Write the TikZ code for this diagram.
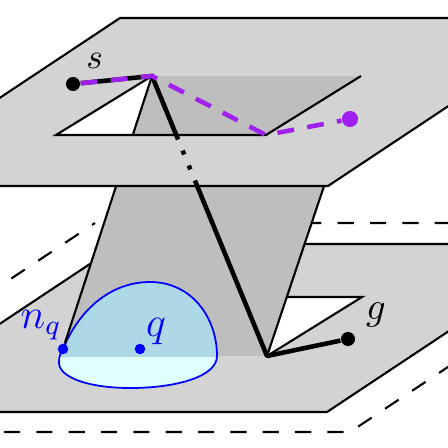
\documentclass[tikz,border=0pt]{standalone}
\usepackage{tikz}
\usetikzlibrary{positioning,calc}

\definecolor{planegray}{RGB}{211,211,211}
\definecolor{rampgray}{RGB}{190,190,190}
\definecolor{pathpurple}{RGB}{160,32,240}
\definecolor{regionblue}{RGB}{173,216,230}
\definecolor{regioncyan}{RGB}{224,255,255}

% outline of the region round q
\newcommand{\qregion}{(63,349) .. controls (80,308) and (112,282) .. (150,282)
    .. controls (192,282) and (217,318) .. (217,356)
    .. controls (217,376) and (178,388) .. (130,388)
    .. controls (88,388) and (58,377) .. (59,362)
    .. controls (59,356) and (61,352) .. (63,349)}

\begin{document}
\begin{tikzpicture}[
    x=0.01cm, y=-0.01cm,
    edge/.style={draw=black, line width=0.6pt},
    frame/.style={draw=black, line width=0.6pt, dash pattern=on 4.6pt off 4.6pt},
    route/.style={line width=1.3pt, black},
    altroute/.style={line width=1.3pt, pathpurple, dash pattern=on 4.8pt off 3.8pt},
    blackdot/.style={circle, fill=black, inner sep=0pt, minimum size=4pt},
    purpledot/.style={circle, fill=pathpurple, inner sep=0pt, minimum size=4.6pt},
    bluedot/.style={circle, fill=blue, inner sep=0pt, minimum size=3pt}
]
\useasboundingbox (0,0) rectangle (448,448);
\clip (0,0) rectangle (448,448);

% Dashed frame
\draw[frame, dash phase=4.6pt] (95,223) -- (665,223) -- (350,432) -- (-220,432) -- cycle;

% Lower plane
\fill[planegray] (120,244) -- (580,244) -- (327,412) -- (-133,412) -- cycle;
\draw[edge] (120,244) -- (580,244) -- (327,412) -- (-133,412) -- cycle;
\fill[white] (156,297) -- (362,297) -- (267,356) -- (61,356) -- cycle;
\draw[edge] (156,297) -- (362,297) -- (267,356);

% Ramp
\coordinate (c) at (152,76);
\coordinate (b) at (267,356);
\fill[rampgray] (c) -- (361,76) -- (b) -- (61,356) -- cycle;

% Region round q
\fill[regioncyan] \qregion;
\begin{scope}
    \clip (0,0) rectangle (448,356);
    \fill[regionblue] \qregion;
\end{scope}
\draw[blue, line width=0.5pt] \qregion;
\node[bluedot] (nq) at (63,349) {};
\node[bluedot] (q) at (140,349) {};

\draw[edge] (c) -- (nq);
\draw[edge] (361,76) -- (b);

% Upper plane with its hole
\fill[planegray, even odd rule] (120,18) -- (581,18) -- (328,186) -- (-133,186) -- cycle
    (c) -- (361,76) -- (266,135) -- (56,135) -- cycle;
\draw[edge] (120,18) -- (581,18) -- (328,186) -- (-133,186) -- cycle;
\draw[edge] (c) -- (56,135) -- (266,135) -- (361,76);

% Nodes
\node[blackdot] (s) at (73,84) {};
\node[blackdot] (g) at (348,339) {};
\node[purpledot] (p) at (350,119) {};
\coordinate (h) at (266,135);

% Path from s to g
\draw[route] (s) -- (c) -- ($(c)!0.221!(b)$);
\draw[route, dash pattern=on 1.2pt off 3.4pt, dash phase=0.7pt] ($(c)!0.221!(b)$) -- ($(c)!0.382!(b)$);
\draw[route, line join=round] ($(c)!0.382!(b)$) -- (b) -- (g);

% Other path
\draw[altroute] (s) -- (c) -- (h) -- (p);

% Labels
\node[anchor=base] (slabel) at (94.5,68) {$s$};
\node[anchor=base, font=\fontsize{11}{13}\selectfont] (glabel) at (376,319) {$g$};
\node[anchor=base, blue, font=\large] (qlabel) at (156,336) {$q$};
\node[anchor=base, blue, font=\large] (nqlabel) at (41,328) {$n_q$};

\end{tikzpicture}
\end{document}
